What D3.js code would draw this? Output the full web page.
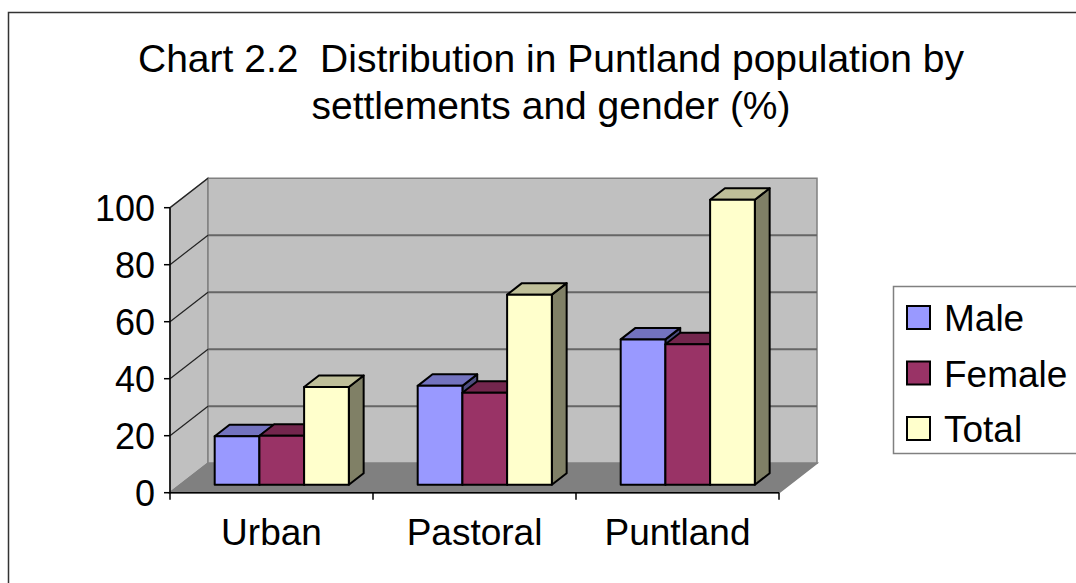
<!DOCTYPE html>
<html>
<head>
<meta charset="utf-8">
<script src="https://cdn.jsdelivr.net/npm/d3@7"></script>
<style>
body{margin:0;background:#fff;}
text{font-family:"Liberation Sans",Arial,sans-serif;fill:#000;}
</style>
</head>
<body>
<svg class="chart" width="1076" height="583"></svg>
<script>
// data
var categories = ["Urban","Pastoral","Puntland"];
var series = ["Male","Female","Total"];
var male = [17, 34.7, 51];
var female = [17.2, 32.3, 49.3];
var total = [34.3, 66.7, 100];
var yTicks = [0,20,40,60,80,100];
var titleLines = ["Chart 2.2  Distribution in Puntland population by","settlements and gender (%)"];

var colors = {Male:"#9999ff",Female:"#993366",Total:"#ffffcc"};
var topColors = {Male:"#7373bf",Female:"#73264d",Total:"#bfbf99"};
var sideColors = {Male:"#4d4d80",Female:"#4d1a33",Total:"#808066"};

var values = {Male:male,Female:female,Total:total};

// 3d depth offset of the back wall
var DX = 38, DY = -29.5;
var d0 = 0.27, d1 = 0.66;

var svg = d3.select(".chart");

var scaleX = d3.scaleBand().domain(categories).range([170,779]);
var scaleS = d3.scaleBand().domain(series).range([0,scaleX.bandwidth()]).paddingOuter(0.77);
var scaleY = d3.scaleLinear().domain([0,100]).range([492.7,207.7]);

function pt(x,v,d){return [x+d*DX, scaleY(v)+d*DY];}
function poly(p){return p.map(function(q){return q[0]+","+q[1];}).join(" ");}

// outer frame
svg.append("rect")
	.attr("x",8.5).attr("y",12.5)
	.attr("width",1100).attr("height",620)
	.style("fill","none").style("stroke","#333").style("stroke-width",1.5);

// title
svg.selectAll(".title")
	.data(titleLines)
	.enter()
	.append("text")
	.attr("class","title")
	.attr("x",551)
	.attr("y",function(d,i){return 72+i*47;})
	.attr("text-anchor","middle")
	.style("white-space","pre")
	.style("font-size","39px")
	.text(function(d){return d;});

var x0 = scaleX.range()[0], x1 = scaleX.range()[1];

// walls and floor
svg.append("polygon")
	.attr("points",poly([pt(x0,0,0),pt(x0,100,0),pt(x0,100,1),pt(x0,0,1)]))
	.style("fill","#c0c0c0").style("stroke","#808080").style("stroke-width",1.5);
svg.append("polygon")
	.attr("points",poly([pt(x0,0,1),pt(x0,100,1),pt(x1,100,1),pt(x1,0,1)]))
	.style("fill","#c0c0c0").style("stroke","#808080").style("stroke-width",1.5);

// gridlines on back wall and left wall
svg.selectAll(".grid")
	.data(yTicks.slice(1,-1))
	.enter()
	.append("line")
	.attr("class","grid")
	.attr("x1",function(d){return pt(x0,d,1)[0];})
	.attr("y1",function(d){return pt(x0,d,1)[1];})
	.attr("x2",function(d){return pt(x1,d,1)[0];})
	.attr("y2",function(d){return pt(x1,d,1)[1];})
	.style("stroke","#666").style("stroke-width",2);
svg.selectAll(".sgrid")
	.data(yTicks.slice(1))
	.enter()
	.append("line")
	.attr("class","sgrid")
	.attr("x1",function(d){return pt(x0,d,0)[0];})
	.attr("y1",function(d){return pt(x0,d,0)[1];})
	.attr("x2",function(d){return pt(x0,d,1)[0];})
	.attr("y2",function(d){return pt(x0,d,1)[1];})
	.style("stroke","#222").style("stroke-width",1.2);

svg.append("polygon")
	.attr("points",poly([pt(x0,0,0),pt(x0,0,1),pt(x1,0,1),pt(x1,0,0)]))
	.style("fill","#808080").style("stroke","#808080").style("stroke-width",1.5);

// bars, drawn left to right
categories.forEach(function(c,ci){
	series.forEach(function(s){
		var v = values[s][ci];
		var bx0 = scaleX(c)+scaleS(s), bx1 = bx0+scaleS.bandwidth();
		var g = svg.append("g").attr("class","bar");
		g.append("polygon")
			.attr("points",poly([pt(bx1,0,d0),pt(bx1,v,d0),pt(bx1,v,d1),pt(bx1,0,d1)]))
			.style("fill",sideColors[s]);
		g.append("polygon")
			.attr("points",poly([pt(bx0,v,d0),pt(bx0,v,d1),pt(bx1,v,d1),pt(bx1,v,d0)]))
			.style("fill",topColors[s]);
		g.append("polygon")
			.attr("points",poly([pt(bx0,0,d0),pt(bx0,v,d0),pt(bx1,v,d0),pt(bx1,0,d0)]))
			.style("fill",colors[s]);
		g.selectAll("polygon")
			.style("stroke","#000").style("stroke-width",2).style("stroke-linejoin","round");
	});
});

// value axis
svg.append("line")
	.attr("x1",x0).attr("x2",x0)
	.attr("y1",scaleY(0)).attr("y2",scaleY(100))
	.style("stroke","#000").style("stroke-width",1.5);
svg.selectAll(".ytick")
	.data(yTicks)
	.enter()
	.append("line")
	.attr("class","ytick")
	.attr("x1",x0-6).attr("x2",x0)
	.attr("y1",function(d){return scaleY(d);})
	.attr("y2",function(d){return scaleY(d);})
	.style("stroke","#000").style("stroke-width",1.5);
svg.selectAll(".ylabel")
	.data(yTicks)
	.enter()
	.append("text")
	.attr("class","ylabel")
	.attr("x",155)
	.attr("y",function(d){return scaleY(d)+13;})
	.attr("text-anchor","end")
	.style("font-size","36px")
	.text(function(d){return d;});

// category axis
svg.append("line")
	.attr("x1",x0).attr("x2",x1)
	.attr("y1",scaleY(0)).attr("y2",scaleY(0))
	.style("stroke","#000").style("stroke-width",1.5);
svg.selectAll(".xtick")
	.data(categories.map(function(c){return scaleX(c);}).concat([x1]))
	.enter()
	.append("line")
	.attr("class","xtick")
	.attr("x1",function(d){return d;}).attr("x2",function(d){return d;})
	.attr("y1",scaleY(0)).attr("y2",scaleY(0)+7)
	.style("stroke","#000").style("stroke-width",1.5);
svg.selectAll(".xlabel")
	.data(categories)
	.enter()
	.append("text")
	.attr("class","xlabel")
	.attr("x",function(d){return scaleX(d)+scaleX.bandwidth()/2;})
	.attr("y",545)
	.attr("text-anchor","middle")
	.style("font-size","37px")
	.text(function(d){return d;});

// legend
var legend = svg.append("g").attr("class","legend");
legend.append("rect")
	.attr("x",893.5).attr("y",286.5)
	.attr("width",220).attr("height",167)
	.style("fill","#fff").style("stroke","#808080").style("stroke-width",1.5);
legend.selectAll(".swatch")
	.data(series)
	.enter()
	.append("rect")
	.attr("class","swatch")
	.attr("x",907)
	.attr("y",function(d,i){return 306+i*55.5;})
	.attr("width",23).attr("height",23)
	.style("fill",function(d){return colors[d];})
	.style("stroke","#000").style("stroke-width",2);
legend.selectAll(".ltext")
	.data(series)
	.enter()
	.append("text")
	.attr("class","ltext")
	.attr("x",944)
	.attr("y",function(d,i){return 331+i*55.5;})
	.style("font-size","37px")
	.text(function(d){return d;});
</script>
</body>
</html>
